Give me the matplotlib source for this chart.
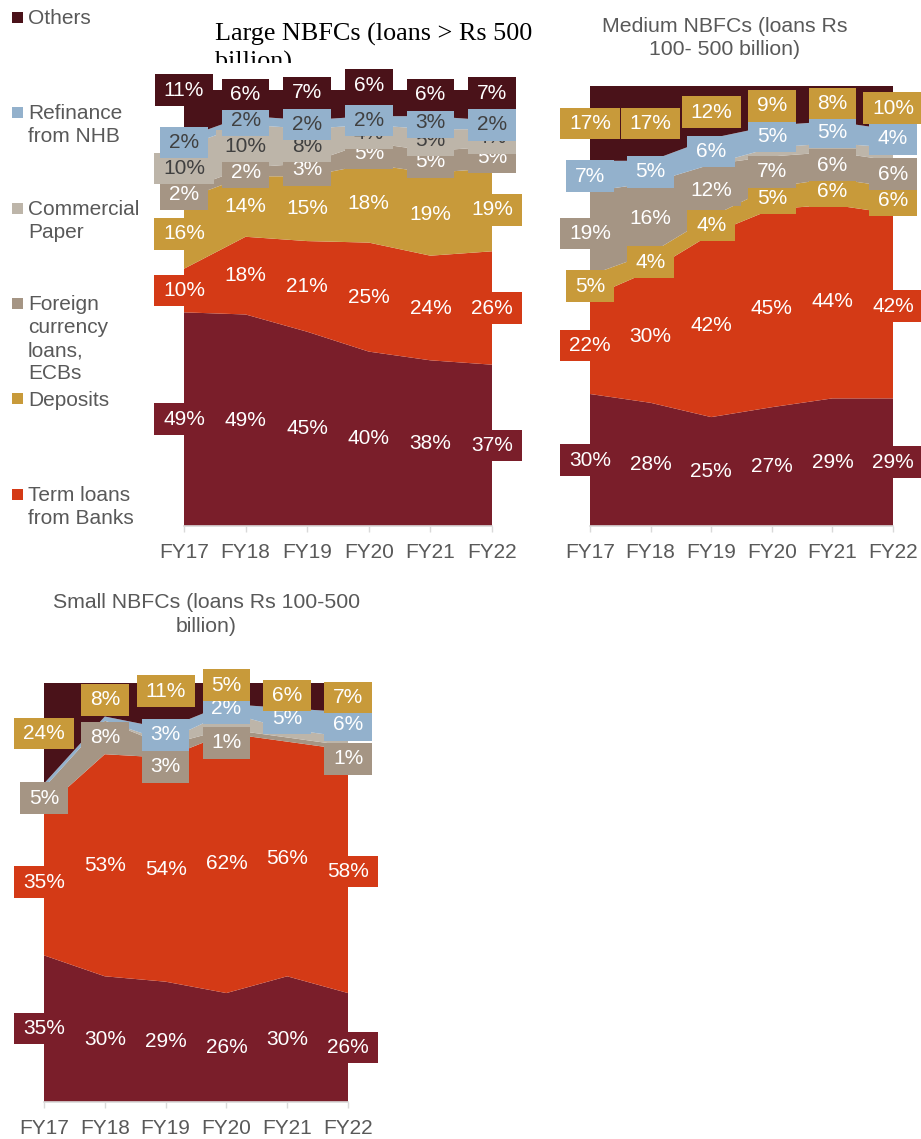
import numpy as np
import matplotlib
matplotlib.use("Agg")
import matplotlib.pyplot as plt
from matplotlib.patches import Rectangle
from matplotlib.path import Path
from matplotlib.transforms import Bbox, TransformedBbox

plt.rcParams["font.family"] = ["Liberation Sans", "DejaVu Sans"]

years = ["FY17", "FY18", "FY19", "FY20", "FY21", "FY22"]

# ── data: share of borrowings (%) ─────────────────────────────────────────
# bottom series ("base") has no legend entry in the source chart
large_base = [49, 49, 45, 40, 38, 37]
large_term = [10, 18, 21, 25, 24, 26]
large_deposits = [16, 14, 15, 18, 19, 19]
large_fc = [2, 2, 3, 5, 5, 5]
large_cp = [10, 10, 8, 4, 5, 4]
large_nhb = [2, 2, 2, 2, 3, 2]
large_others = [11, 6, 7, 6, 6, 7]

medium_base = [30, 28, 25, 27, 29, 29]
medium_term = [22, 30, 42, 45, 44, 42]
medium_deposits = [5, 4, 4, 5, 6, 6]
medium_fc = [19, 16, 12, 7, 6, 6]
medium_cp = [0, 0, 0, 2, 2, 3]          # unlabeled sliver
medium_nhb = [7, 5, 6, 5, 5, 4]
medium_others = [17, 17, 12, 9, 8, 10]

small_base = [35, 30, 29, 26, 30, 26]
small_term = [35, 53, 54, 62, 56, 58]
small_deposits = [0, 0, 0, 0, 0, 0]
small_fc = [5, 8, 3, 1, 1, 1]
small_cp = [0, 0, 1, 4, 2, 2]           # unlabeled sliver
small_nhb = [1, 1, 3, 2, 5, 6]
small_others = [24, 8, 11, 5, 6, 7]

legend_names = ["Others", "Refinance\nfrom NHB", "Commercial\nPaper",
                "Foreign\ncurrency\nloans,\nECBs", "Deposits", "Term loans\nfrom Banks"]
legend_keys = ["others", "nhb", "cp", "fc", "deposits", "term"]

# ── styles ────────────────────────────────────────────────────────────────
KEYS = ["base", "term", "deposits", "fc", "cp", "nhb", "others"]
COL = {"base": "#7a1e2a", "term": "#d43a16", "deposits": "#c89a3a",
       "fc": "#a59584", "cp": "#bdb5a9", "nhb": "#93b1cc", "others": "#4a1219"}
GREY = "#595959"
DARK = "#404040"
W, H = 921, 1139


def pad_box(x0, y0, width, height, mutation_size, *args):
    px = 0.42 * mutation_size
    py = 0.30 * mutation_size
    verts = [(x0 - px, y0 - py), (x0 + width + px, y0 - py),
             (x0 + width + px, y0 + height + py), (x0 - px, y0 + height + py),
             (x0 - px, y0 - py)]
    return Path(verts, closed=True)


def make_axes(fig, left, top, right, bottom):
    ax = fig.add_axes([left / W, 1 - bottom / H, (right - left) / W, (bottom - top) / H])
    ax.set_xlim(0, 5)
    ax.set_ylim(0, 100)
    for s in ["left", "right", "top"]:
        ax.spines[s].set_visible(False)
    ax.spines["bottom"].set_color("#d9d9d9")
    ax.spines["bottom"].set_linewidth(1.2)
    ax.set_yticks([])
    ax.set_xticks(range(len(years)))
    ax.set_xticklabels(years)
    ax.tick_params(axis="x", length=4, width=1, color="#d9d9d9",
                   labelcolor=GREY, labelsize=15, pad=8.5)
    return ax


def draw_panel(ax, data, box_col, txt_col, hidden, nudge):
    x = np.arange(len(years))
    arr = np.array([data[k] for k in KEYS], dtype=float)
    tot = arr.sum(axis=0)
    share = arr / tot * 100
    ax.stackplot(x, *share, colors=[COL[k] for k in KEYS], lw=0)
    cum = np.cumsum(share, axis=0)
    for si, k in enumerate(KEYS):
        if k not in box_col:
            continue
        for i in x:
            if (k, i) in hidden or data[k][i] == 0:
                continue
            ymid = cum[si, i] - share[si, i] / 2 + nudge.get((k, i), 0)
            ax.text(i, ymid, f"{data[k][i]}%", ha="center", va="center",
                    fontsize=15, color=txt_col[k], zorder=5 + si,
                    bbox=dict(boxstyle=pad_box, fc=box_col[k], ec="none"))


fig = plt.figure(figsize=(W / 100, H / 100), dpi=100)

# ── Large NBFCs ──
ax1 = make_axes(fig, 184, 90, 492, 526)
large = dict(base=large_base, term=large_term, deposits=large_deposits, fc=large_fc,
             cp=large_cp, nhb=large_nhb, others=large_others)
draw_panel(ax1, large,
           box_col={k: COL[k] for k in KEYS},
           txt_col={**{k: "white" for k in KEYS}, "cp": DARK, "nhb": DARK},
           hidden=set(),
           nudge={("others", 0): 5.5, ("others", 1): 1.9, ("others", 2): 2.8,
                  ("others", 3): 4.1, ("others", 4): 1.9, ("others", 5): 2.8})
# title is cut off by the chart's plot area in the source
t = fig.text(215 / W, 1 - 22.5 / H, "Large NBFCs (loans > Rs 500\nbillion)",
             family="Liberation Serif", fontsize=18.8, color="black",
             ha="left", va="top", linespacing=1.32)
t.set_clip_box(TransformedBbox(Bbox.from_extents(0, 1 - 63 / H, 1, 1), fig.transFigure))
t.set_clip_on(True)

# ── Medium NBFCs ──
ax2 = make_axes(fig, 590, 86, 893, 526)
medium = dict(base=medium_base, term=medium_term, deposits=medium_deposits, fc=medium_fc,
              cp=medium_cp, nhb=medium_nhb, others=medium_others)
draw_panel(ax2, medium,
           box_col={"base": COL["base"], "term": COL["term"], "deposits": COL["deposits"],
                    "fc": COL["fc"], "nhb": COL["nhb"], "others": COL["deposits"]},
           txt_col={k: "white" for k in KEYS},
           hidden=set(), nudge={})
fig.text(725 / W, 1 - 17.5 / H, "Medium NBFCs (loans Rs\n100- 500 billion)",
         fontsize=15.3, color=GREY, ha="center", va="top", linespacing=1.25)

# ── Small NBFCs ──
ax3 = make_axes(fig, 44, 683, 348, 1102)
small = dict(base=small_base, term=small_term, deposits=small_deposits, fc=small_fc,
             cp=small_cp, nhb=small_nhb, others=small_others)
draw_panel(ax3, small,
           box_col={"base": COL["base"], "term": COL["term"], "fc": COL["fc"],
                    "nhb": COL["nhb"], "others": COL["deposits"]},
           txt_col={k: "white" for k in KEYS},
           hidden={("nhb", 0), ("nhb", 1), ("fc", 4)},
           nudge={("fc", 2): -3.7, ("fc", 3): -2.8, ("fc", 5): -2.6,
                  ("others", 2): 3.5, ("others", 3): 2.0})
fig.text(206 / W, 1 - 593.5 / H, "Small NBFCs (loans Rs 100-500\nbillion)",
         fontsize=15.3, color=GREY, ha="center", va="top", linespacing=1.3)

# ── legend (left column) ──
legend_y = [17, 112, 208, 303, 399, 494]
for name, key, yc in zip(legend_names, legend_keys, legend_y):
    fig.patches.append(Rectangle((12 / W, 1 - (yc + 5.5) / H), 11 / W, 11 / H,
                                 transform=fig.transFigure, fc=COL[key], ec="none"))
    fig.text(28 / W, 1 - (yc - 8.2) / H, name, fontsize=15, color=GREY,
             ha="left", va="top", linespacing=1.275)

fig.savefig("out.png", dpi=100)
